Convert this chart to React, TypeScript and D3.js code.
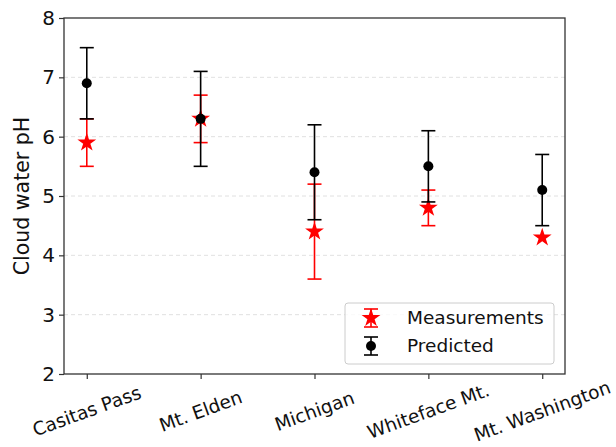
import React, { useEffect, useRef } from 'react';
import * as d3 from 'd3';

const sites = ['Casitas Pass', 'Mt. Elden', 'Michigan', 'Whiteface Mt.', 'Mt. Washington'];
const measured = [5.9, 6.3, 4.4, 4.8, 4.3];
const measuredErr = [0.4, 0.4, 0.8, 0.3, 0];
const predicted = [6.9, 6.3, 5.4, 5.5, 5.1];
const predictedErr = [0.6, 0.8, 0.8, 0.6, 0.6];
const yTicks = [2, 3, 4, 5, 6, 7, 8];

const width = 616;
const height = 447;
const margin = { top: 18, right: 51, bottom: 73, left: 64 };

const App = () => {
  const ref = useRef<SVGSVGElement>(null);

  useEffect(() => {
    const svg = d3.select(ref.current);
    svg.selectAll('*').remove();

    const x = d3.scaleLinear().domain([-0.2, 4.2]).range([margin.left, width - margin.right]);
    const y = d3.scaleLinear().domain([2, 8]).range([height - margin.bottom, margin.top]);
    const font = 'DejaVu Sans, sans-serif';

    // grid
    svg.append('g')
      .selectAll('line')
      .data(yTicks.slice(1, -1))
      .enter()
      .append('line')
      .attr('x1', x(-0.2)).attr('x2', x(4.2))
      .attr('y1', d => y(d)).attr('y2', d => y(d))
      .attr('stroke', '#d8d8d8')
      .attr('stroke-width', 0.8)
      .attr('stroke-dasharray', '4,3');

    const errbars = (vals: number[], errs: number[], color: string) => {
      const g = svg.append('g').attr('stroke', color).attr('stroke-width', 1.6);
      vals.forEach((v, i) => {
        if (errs[i] <= 0) return;
        const cx = x(i);
        g.append('line').attr('x1', cx).attr('x2', cx).attr('y1', y(v - errs[i])).attr('y2', y(v + errs[i]));
        [v - errs[i], v + errs[i]].forEach(c => {
          g.append('line').attr('x1', cx - 7).attr('x2', cx + 7).attr('y1', y(c)).attr('y2', y(c));
        });
      });
    };

    const star = d3.symbol().type(d3.symbolStar).size(110);

    errbars(measured, measuredErr, '#ff0000');
    svg.append('g')
      .selectAll('path')
      .data(measured)
      .enter()
      .append('path')
      .attr('d', star)
      .attr('transform', (d, i) => `translate(${x(i)},${y(d)})`)
      .attr('fill', '#ff0000');

    errbars(predicted, predictedErr, '#000');
    svg.append('g')
      .selectAll('circle')
      .data(predicted)
      .enter()
      .append('circle')
      .attr('cx', (d, i) => x(i))
      .attr('cy', d => y(d))
      .attr('r', 5)
      .attr('fill', '#000');

    // axes
    const yAxis = d3.axisLeft(y).tickValues(yTicks).tickSize(5).tickPadding(4).tickFormat(d3.format('d'));
    const yMinor = d3.axisLeft(y).tickValues(d3.range(2, 8.01, 0.2)).tickSize(3).tickFormat(() => '');
    const xMinor = d3.axisBottom(x).tickValues(d3.range(-0.2, 4.21, 0.2)).tickSize(3).tickFormat(() => '');
    const xAxis = d3.axisBottom(x).tickValues(d3.range(sites.length)).tickSize(5).tickFormat(() => '');

    const gy = svg.append('g').attr('transform', `translate(${margin.left},0)`);
    gy.call(yMinor);
    gy.call(yAxis);
    gy.selectAll('text').attr('font-size', 20).attr('font-family', font).attr('fill', '#111');

    const gx = svg.append('g').attr('transform', `translate(0,${height - margin.bottom})`);
    gx.call(xMinor);
    gx.call(xAxis);
    svg.selectAll('.domain').remove();
    svg.selectAll('.tick line').attr('stroke', '#333').attr('stroke-width', 1.2);

    svg.append('g')
      .selectAll('text')
      .data(sites)
      .enter()
      .append('text')
      .attr('transform', (d, i) => `translate(${x(i)},${height - margin.bottom + 37}) rotate(-20)`)
      .attr('text-anchor', 'middle')
      .attr('dy', '0.35em')
      .attr('font-size', 18.5)
      .attr('font-family', font)
      .attr('fill', '#111')
      .text(d => d);

    svg.append('rect')
      .attr('x', margin.left).attr('y', margin.top)
      .attr('width', width - margin.left - margin.right)
      .attr('height', height - margin.top - margin.bottom)
      .attr('fill', 'none').attr('stroke', '#333').attr('stroke-width', 1.3);

    svg.append('text')
      .attr('transform', `translate(22,${(margin.top + height - margin.bottom) / 2}) rotate(-90)`)
      .attr('text-anchor', 'middle')
      .attr('dy', '0.35em')
      .attr('font-size', 20.5)
      .attr('font-family', font)
      .attr('fill', '#111')
      .text('Cloud water pH');

    // legend
    const lg = svg.append('g').attr('transform', 'translate(345,303)');
    lg.append('rect').attr('width', 209).attr('height', 61).attr('rx', 3)
      .attr('fill', 'rgba(255,255,255,0.8)').attr('stroke', '#ccc');
    const items = [
      { label: 'Measurements', color: '#ff0000', kind: 'star' },
      { label: 'Predicted', color: '#000', kind: 'dot' },
    ];
    items.forEach((it, i) => {
      const cy = 15 + i * 28;
      const g = lg.append('g').attr('transform', `translate(26,${cy})`);
      g.append('line').attr('y1', -9).attr('y2', 9).attr('stroke', it.color).attr('stroke-width', 1.6);
      [-9, 9].forEach(c => g.append('line').attr('x1', -7).attr('x2', 7).attr('y1', c).attr('y2', c).attr('stroke', it.color).attr('stroke-width', 1.6));
      if (it.kind === 'star') g.append('path').attr('d', star).attr('fill', it.color);
      else g.append('circle').attr('r', 5).attr('fill', it.color);
      lg.append('text').attr('x', 62).attr('y', cy).attr('dy', '0.35em')
        .attr('font-size', 18.5).attr('font-family', font).attr('fill', '#111').text(it.label);
    });
  }, []);

  return (
    <svg ref={ref} width={width} height={height}
      style={{ position: 'absolute', left: 0, top: 0, background: '#fff' }} />
  );
};

export default App;
